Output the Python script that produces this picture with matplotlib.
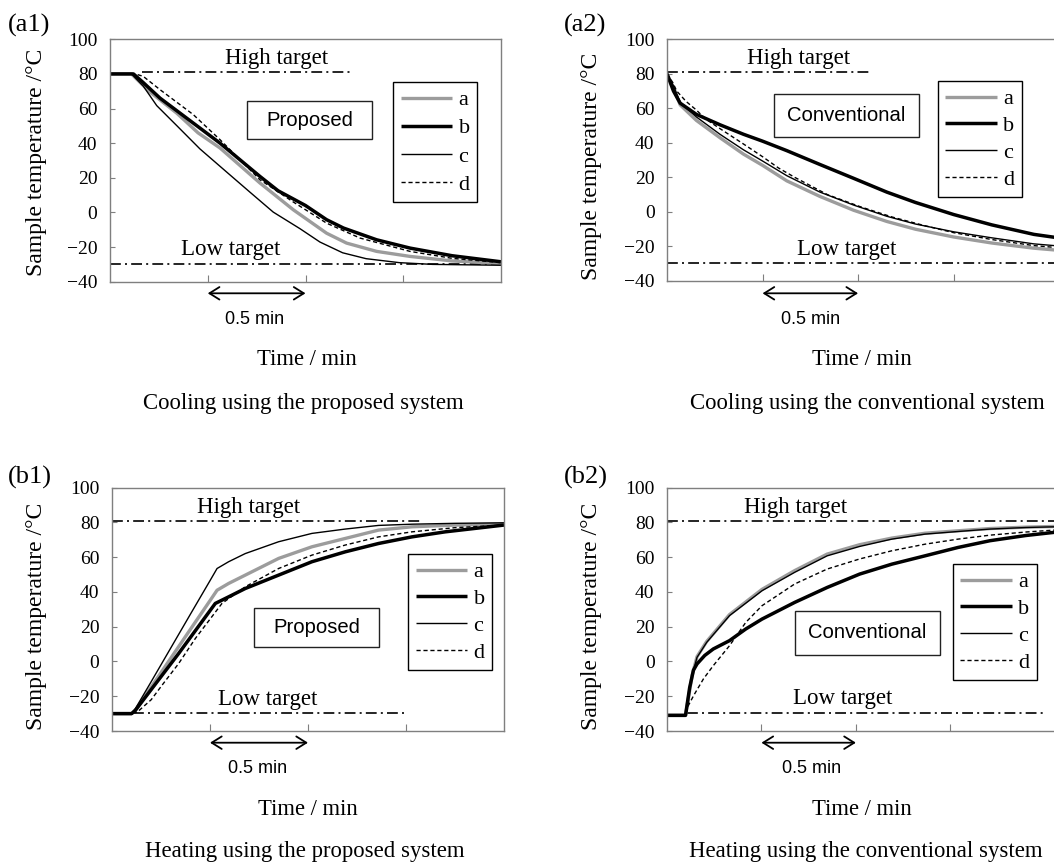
import matplotlib
matplotlib.use("Agg")
import matplotlib.pyplot as plt
import matplotlib.patches as patches

plt.rcParams['font.family'] = ['Liberation Serif', 'DejaVu Serif']
plt.rcParams['axes.unicode_minus'] = True

# ---------------- data ----------------
# (a1) Cooling, proposed system
a1_a_t = [0, 0.11, 0.2, 0.341, 0.45, 0.563, 0.767, 0.938, 1.108, 1.21, 1.364, 1.535, 1.75, 2.0]
a1_a_v = [80, 80, 70, 57.4, 46, 37.2, 17, 1.5, -12, -17.7, -22.5, -25.4, -28, -29.5]
a1_b_t = [0, 0.12, 0.17, 0.256, 0.426, 0.563, 0.767, 0.86, 1.0, 1.108, 1.194, 1.364, 1.535, 1.75, 2.0]
a1_b_v = [80, 80, 75, 66, 51.6, 40, 20.8, 12.5, 4, -4.2, -9, -15.8, -20.6, -25, -28.5]
a1_c_t = [0, 0.11, 0.17, 0.239, 0.341, 0.46, 0.597, 0.716, 0.835, 0.972, 1.074, 1.19, 1.31, 1.48, 1.65, 2.0]
a1_c_v = [80, 80, 73, 61.7, 50.2, 36.7, 23.3, 11.7, 0.2, -9.4, -17.1, -23.3, -26.7, -29, -30, -30.5]
a1_d_t = [0, 0.13, 0.17, 0.256, 0.426, 0.563, 0.767, 0.938, 1.022, 1.108, 1.279, 1.535, 1.75, 2.0]
a1_d_v = [80, 80, 78.6, 70.9, 56.5, 42, 18.9, 6, 0, -6.2, -14.8, -22.5, -26.5, -29]

# (a2) Cooling, conventional system
a2_t = [0, 0.034, 0.069, 0.154, 0.277, 0.4, 0.5, 0.627, 0.8, 0.976, 1.15, 1.3, 1.5, 1.7, 1.92, 2.08]
a2_a_v = [80, 72, 62, 53, 43, 33.5, 27, 18, 9, 1, -5.5, -10, -14.5, -18, -21, -22.5]
a2_b_v = [80, 70, 63, 56.5, 50.5, 45, 41, 35.5, 27.5, 19.5, 11.5, 5.5, -1.5, -7.5, -13, -15.5]
a2_c_v = [80, 73, 63.5, 55, 45, 36, 29.5, 21, 11.5, 4, -2.5, -7, -11.5, -15, -18.5, -20]
a2_d_t = [0, 0.03, 0.051, 0.1, 0.154, 0.2, 0.274, 0.412, 0.5, 0.583, 0.669, 0.84, 1.012, 1.18, 1.35, 1.5, 1.7, 1.92, 2.08]
a2_d_v = [80, 75, 70, 64, 59, 54, 48.5, 38.5, 32, 25.5, 20, 10, 3, -3, -8, -12, -16, -19.5, -21]

# (b1) Heating, proposed system
b1_a_t = [0, 0.10, 0.12, 0.2, 0.3, 0.4, 0.5, 0.536, 0.595, 0.68, 0.85, 1.02, 1.19, 1.36, 1.53, 1.75, 2.0]
b1_a_v = [-30, -30, -28, -14.7, 1.9, 18.5, 35, 41, 44.9, 49.7, 59.3, 66, 70.8, 75.6, 77.5, 78.5, 79]
b1_b_t = [0, 0.10, 0.12, 0.23, 0.34, 0.527, 0.595, 0.68, 0.85, 1.02, 1.19, 1.36, 1.53, 1.7, 2.0]
b1_b_v = [-30, -30, -28, -11.7, 4.6, 33.4, 37.2, 42, 49.7, 57.4, 63.1, 67.9, 71.7, 74.6, 78.5]
b1_c_t = [0, 0.10, 0.12, 0.2, 0.3, 0.4, 0.5, 0.536, 0.595, 0.68, 0.85, 1.02, 1.19, 1.36, 1.53, 1.75, 2.0]
b1_c_v = [-30, -30, -27, -11.6, 7.8, 27.2, 46.5, 53.5, 57.4, 62.1, 68.9, 73.7, 76.2, 78.3, 79, 79.5, 79.8]
b1_d_t = [0, 0.10, 0.13, 0.2, 0.255, 0.34, 0.425, 0.561, 0.68, 0.85, 1.02, 1.19, 1.36, 1.53, 1.75, 2.0]
b1_d_v = [-30, -30, -29, -22, -13.7, -1.2, 13.2, 33.4, 43, 53.5, 61.2, 67, 71.7, 74.6, 77, 78.5]

# (b2) Heating, conventional system
b2_t = [0, 0.098, 0.115, 0.133, 0.159, 0.21, 0.331, 0.503, 0.676, 0.848, 1.02, 1.19, 1.366, 1.54, 1.71, 1.9, 2.09]
b2_a_v = [-31, -31, -20, -8, 2.8, 11.5, 27, 41.5, 52.3, 61.8, 67.2, 71, 73.8, 75.2, 76.5, 77.3, 77.8]
b2_c_v = [-31, -31, -20, -8, 2.4, 11, 26.4, 40.7, 51.3, 60.8, 66.2, 70.4, 73.3, 74.8, 76.2, 77.1, 77.6]
b2_b_t = [0, 0.098, 0.12, 0.14, 0.159, 0.2, 0.245, 0.331, 0.417, 0.503, 0.676, 0.848, 1.02, 1.19, 1.366, 1.54, 1.71, 1.9, 2.09]
b2_b_v = [-31, -31, -15, -5, -1.4, 3.5, 7.2, 12, 18.7, 24.4, 34, 42.6, 50.3, 56, 60.8, 65.6, 69.5, 72.5, 74.8]
b2_d_t = [0, 0.098, 0.11, 0.141, 0.193, 0.245, 0.331, 0.417, 0.503, 0.676, 0.848, 1.02, 1.19, 1.366, 1.54, 1.71, 1.9, 2.09]
b2_d_v = [-31, -31, -26, -19.6, -10, -2.4, 9.1, 22.5, 32.1, 44.6, 53.2, 59, 63.7, 67.5, 70.4, 72.7, 74.5, 75.9]

series_labels = ['a', 'b', 'c', 'd']
y_ticks = [-40, -20, 0, 20, 40, 60, 80, 100]
x_ticks = [0.5, 1.0, 1.5]
high_target = 81
low_target = -29.5

panel_tags = ['(a1)', '(a2)', '(b1)', '(b2)']
box_texts = ['Proposed', 'Conventional', 'Proposed', 'Conventional']
captions = ['Cooling using the proposed system', 'Cooling using the conventional system',
            'Heating using the proposed system', 'Heating using the conventional system']
# target line extents (min)
high_ext = [(0.164, 1.238), (0.0, 1.07), (0.0, 1.58), (0.0, 2.2)]
low_ext = [(0.0, 2.0), (0.0, 2.2), (0.107, 1.497), (0.107, 1.99)]

# ---------------- layout ----------------
W, H = 1054, 864
fig = plt.figure(figsize=(W / 100, H / 100), dpi=100)

# axes boxes in pixels: left, top, right, bottom, xmax
boxes = [
    (110, 39.3, 501, 281.7, 2.0),
    (667, 39.3, 1060, 281.0, (1060 - 667) / 191.1),
    (112, 487.7, 504, 731.0, 2.0),
    (667, 487.7, 1060, 731.0, (1060 - 667) / 188.9),
]

def fxp(px):
    return px / W

def fyp(py):
    return 1 - py / H

GRAY_SPINE = '#7f7f7f'
GRAY_LINE = '#9c9c9c'
dashdot = (0, (6.5, 2.5, 1.2, 2.5))

panels = [
    [(a1_a_t, a1_a_v), (a1_b_t, a1_b_v), (a1_c_t, a1_c_v), (a1_d_t, a1_d_v)],
    [(a2_t, a2_a_v), (a2_t, a2_b_v), (a2_t, a2_c_v), (a2_d_t, a2_d_v)],
    [(b1_a_t, b1_a_v), (b1_b_t, b1_b_v), (b1_c_t, b1_c_v), (b1_d_t, b1_d_v)],
    [(b2_t, b2_a_v), (b2_b_t, b2_b_v), (b2_t, b2_c_v), (b2_d_t, b2_d_v)],
]
styles = [
    dict(color=GRAY_LINE, lw=2.4, ls='-'),
    dict(color='black', lw=2.5, ls='-'),
    dict(color='black', lw=1.0, ls='-'),
    dict(color='black', lw=1.0, ls=(0, (3, 2))),
]

# text positions (pixels)
tag_pos = [(29, 25), (585, 25), (30, 477), (586, 477)]
ylabel_pos = [(36.5, 162), (591, 166), (36.5, 616), (591, 616)]
box_rects = [(247, 101, 372, 139), (774, 94, 918.7, 137), (254, 607.7, 379, 646.7), (795, 611, 940, 655)]
legend_ul = [(393, 82), (937.7, 81), (408, 554), (952.7, 564)]
legend_sp = [0.34, 0.28, 0.28, 0.28]
arrow_py = [293.3, 293.3, 742.7, 742.7]
halfmin_pos = [(255, 319.3), (811, 319.3), (257.5, 768.3), (812, 768.3)]
time_pos = [(306.7, 359.3), (862, 359.3), (308, 809.3), (862, 809.3)]
caption_pos = [(303, 403.3), (867, 403.3), (305, 851.7), (866, 851.7)]
high_label = [(0.85, 85.5), (0.69, 85.7), (0.695, 85.6), (0.68, 85.3)]
low_label = [(0.618, -24.6), (0.94, -25.2), (0.793, -25.0), (0.93, -24.5)]

for i, (l, t, r, b, xmax) in enumerate(boxes):
    ax = fig.add_axes([l / W, 1 - b / H, (r - l) / W, (b - t) / H])
    ax.set_xlim(0, xmax)
    ax.set_ylim(-40, 100)
    ax.set_yticks(y_ticks)
    ax.set_xticks(x_ticks)
    ax.tick_params(axis='x', direction='in', length=5, width=0.8, color=GRAY_SPINE,
                   labelbottom=False)
    ax.tick_params(axis='y', direction='in', length=3.5, width=0.8, color=GRAY_SPINE,
                   labelsize=14, pad=9.0)
    for sp in ax.spines.values():
        sp.set_color(GRAY_SPINE)
        sp.set_linewidth(1.0)

    # target lines
    ax.plot(high_ext[i], [high_target, high_target], color='black', lw=1.2, ls=dashdot)
    ax.plot(low_ext[i], [low_target, low_target], color='black', lw=1.2, ls=dashdot)
    ax.text(high_label[i][0], high_label[i][1], 'High target', ha='center', va='baseline',
            fontsize=16.5)
    ax.text(low_label[i][0], low_label[i][1], 'Low target', ha='center', va='baseline',
            fontsize=16.5)

    handles = []
    for (tt, vv), st, lab in zip(panels[i], styles, series_labels):
        ln, = ax.plot(tt, vv, label=lab, solid_capstyle='butt', **st)
        handles.append(ln)

    leg = ax.legend(handles=handles, loc='upper left',
                    bbox_to_anchor=(fxp(legend_ul[i][0]), fyp(legend_ul[i][1])),
                    bbox_transform=fig.transFigure, borderaxespad=0,
                    fancybox=False, edgecolor='black', framealpha=1,
                    fontsize=16, handlelength=2.3, handletextpad=0.3,
                    borderpad=0.35, labelspacing=legend_sp[i])
    leg.get_frame().set_linewidth(1.0)

    # arrow "0.5 min"
    yf = (b - arrow_py[i]) / (b - t)
    ax.annotate('', xy=(1.0, yf), xytext=(0.5, yf), xycoords=ax.get_xaxis_transform(),
                textcoords=ax.get_xaxis_transform(), annotation_clip=False,
                arrowprops=dict(arrowstyle='<->,head_length=0.4,head_width=0.25', lw=1.3,
                                color='black', shrinkA=0, shrinkB=0, mutation_scale=18))

    # boxed label
    x0, y0, x1, y1 = box_rects[i]
    fig.add_artist(patches.Rectangle((fxp(x0), fyp(y1)), (x1 - x0) / W, (y1 - y0) / H,
                                     transform=fig.transFigure, fill=False,
                                     ec='#222222', lw=1.0))
    fig.text(fxp((x0 + x1) / 2), fyp((y0 + y1) / 2), box_texts[i], ha='center', va='center',
             fontsize=14.6, family='Liberation Sans')

    fig.text(fxp(tag_pos[i][0]), fyp(tag_pos[i][1]), panel_tags[i], ha='center', va='center',
             fontsize=19)
    fig.text(fxp(ylabel_pos[i][0]), fyp(ylabel_pos[i][1]), 'Sample temperature /°C',
             rotation=90, ha='center', va='center', fontsize=17)
    fig.text(fxp(halfmin_pos[i][0]), fyp(halfmin_pos[i][1]), '0.5 min', ha='center',
             va='center', fontsize=13, family='Liberation Sans')
    fig.text(fxp(time_pos[i][0]), fyp(time_pos[i][1]), 'Time / min', ha='center',
             va='center', fontsize=16.3)
    fig.text(fxp(caption_pos[i][0]), fyp(caption_pos[i][1]), captions[i], ha='center',
             va='center', fontsize=16.4)

fig.savefig('out.png', dpi=100)
